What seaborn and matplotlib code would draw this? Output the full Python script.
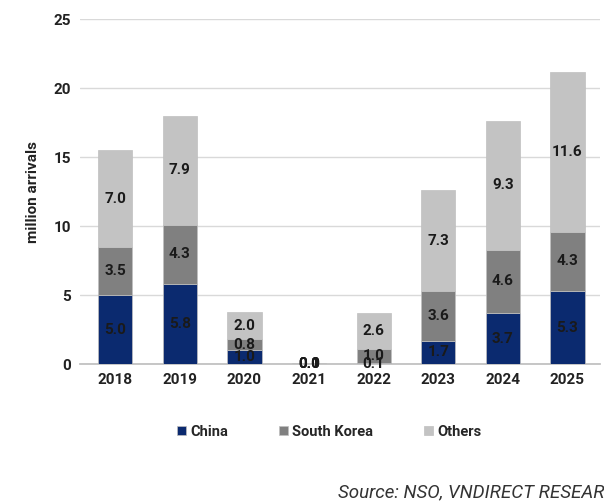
import matplotlib
matplotlib.use("Agg")
import matplotlib.pyplot as plt
import seaborn as sns
import numpy as np
import pandas as pd
from matplotlib.patches import Patch

years = ["2018", "2019", "2020", "2021", "2022", "2023", "2024", "2025"]
china = [5.0, 5.8, 1.0, 0.0, 0.1, 1.7, 3.7, 5.3]
south_korea = [3.5, 4.3, 0.8, 0.0, 1.0, 3.6, 4.6, 4.3]
others = [7.0, 7.9, 2.0, 0.1, 2.6, 7.3, 9.3, 11.6]
series_names = ["China", "South Korea", "Others"]
colors = ["#0b2a6f", "#808080", "#c3c3c3"]

sns.set_theme(style="white")
plt.rcParams['font.family'] = ['Roboto', 'DejaVu Sans']

fig = plt.figure(figsize=(6.04, 5.01), dpi=100)
ax = fig.add_axes([0.132, 0.273, 0.861, 0.689])

df = pd.DataFrame({"year": years, "China": china, "South Korea": south_korea, "Others": others})
bottom = np.zeros(len(years))
for name, col in zip(series_names, colors):
    sns.barplot(data=df, x="year", y=name, color=col, bottom=bottom, width=0.53,
                ax=ax, saturation=1, edgecolor="#bfbfbf", linewidth=0.5, zorder=3)
    bottom = bottom + df[name].values

for cont in ax.containers:
    ax.bar_label(cont, labels=[f"{v.get_height():.1f}" for v in cont], label_type="center",
                 fontsize=11, fontweight="bold", color="#1a1a1a")

ax.set_ylim(0, 25)
ax.set_xlim(-0.55, 7.5)
ax.set_yticks([0, 5, 10, 15, 20, 25])
ax.yaxis.grid(True, color="#d9d9d9", linewidth=1, zorder=0)
ax.set_axisbelow(True)
for s in ["top", "right", "left"]:
    ax.spines[s].set_visible(False)
ax.spines["bottom"].set_color("#bfbfbf")
ax.tick_params(axis="both", length=0, labelsize=11, colors="#222222", pad=6)
for t in ax.get_xticklabels() + ax.get_yticklabels():
    t.set_fontweight("bold")
ax.set_xlabel("")
ax.set_ylabel("million arrivals", fontsize=11, fontweight="bold", color="#222222", labelpad=10)

handles = [Patch(facecolor=c, edgecolor="#bfbfbf", linewidth=0.5) for c in colors]
fig.legend(handles, series_names, loc="center", bbox_to_anchor=(0.545, 0.138), ncol=3,
           frameon=False, handlelength=0.6, handleheight=0.6, columnspacing=3.5, handletextpad=0.3,
           prop={"weight": "bold", "size": 10.5})

fig.text(0.56, 0.008, "Source: NSO, VNDIRECT RESEARCH", fontsize=13.5, style="italic", color="#333333")

fig.savefig("out.png", dpi=100)
